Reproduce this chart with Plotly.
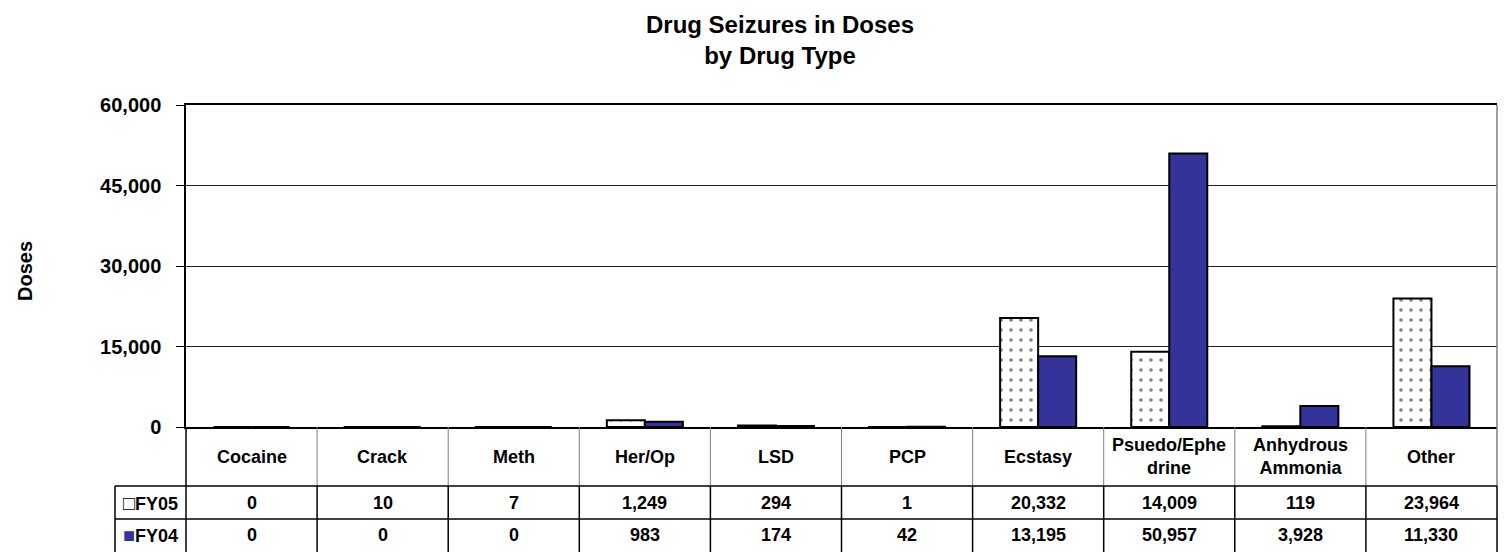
import plotly.graph_objects as go

# ---- data ----
categories = ["Cocaine", "Crack", "Meth", "Her/Op", "LSD", "PCP", "Ecstasy",
              "Psuedo/Ephedrine", "Anhydrous Ammonia", "Other"]
header_labels = ["Cocaine", "Crack", "Meth", "Her/Op", "LSD", "PCP", "Ecstasy",
                 "Psuedo/Ephe<br>drine", "Anhydrous<br>Ammonia", "Other"]
fy05 = [0, 10, 7, 1249, 294, 1, 20332, 14009, 119, 23964]
fy04 = [0, 0, 0, 983, 174, 42, 13195, 50957, 3928, 11330]
series_names = ["FY05", "FY04"]
y_ticks = [0, 15000, 30000, 45000, 60000]

FONT = "Liberation Sans, Arial, sans-serif"
BLUE = "#333399"

W, H = 1511, 552
ML, MR, MT, MB = 186, 14, 105, 125
PW = W - ML - MR
PH = H - MT - MB

def py(px_below):  # pixels below plot bottom -> paper y
    return -px_below / PH

def pxx(px_left):  # pixels left of plot left -> paper x
    return -px_left / PW

HDR = py(59)
ROW1 = py(92)
ROW2 = py(125)
LEFTCOL = pxx(71)

fig = go.Figure()
fig.add_trace(go.Bar(
    x=categories, y=fy05, name=series_names[0],
    marker=dict(color="white",
                pattern=dict(shape=".", fgcolor="black", bgcolor="white",
                             size=10, solidity=0.1, fillmode="overlay"),
                line=dict(color="black", width=2)),
    showlegend=False, cliponaxis=False))
fig.add_trace(go.Bar(
    x=categories, y=fy04, name=series_names[1],
    marker=dict(color=BLUE, line=dict(color="black", width=2)),
    showlegend=False, cliponaxis=False))

shapes = []
n = len(categories)
for i in range(1, n):
    shapes.append(dict(type="line", xref="x", yref="paper", x0=i - 0.5, x1=i - 0.5,
                       y0=0, y1=HDR, line=dict(color="#808080", width=1)))
    shapes.append(dict(type="line", xref="x", yref="paper", x0=i - 0.5, x1=i - 0.5,
                       y0=HDR, y1=ROW2, line=dict(color="black", width=1.5)))
shapes.append(dict(type="line", xref="paper", yref="paper", x0=0, x1=0, y0=0, y1=ROW2,
                   line=dict(color="black", width=1.5)))
shapes.append(dict(type="line", xref="paper", yref="paper", x0=LEFTCOL, x1=LEFTCOL,
                   y0=HDR, y1=ROW2, line=dict(color="black", width=1.5)))
shapes.append(dict(type="line", xref="paper", yref="paper", x0=1, x1=1, y0=1, y1=HDR,
                   line=dict(color="#808080", width=1.5)))
shapes.append(dict(type="line", xref="paper", yref="paper", x0=1, x1=1, y0=HDR, y1=ROW2,
                   line=dict(color="black", width=1.5)))
for yy in (HDR, ROW1):
    shapes.append(dict(type="line", xref="paper", yref="paper", x0=LEFTCOL, x1=1,
                       y0=yy, y1=yy, line=dict(color="black", width=1.5)))

annotations = []
hdr_c = py(29.5)
r1_c = py(75.5)
r2_c = py(108)
tfont = dict(family=FONT, size=18, color="black", weight="bold")
for cat, lab, a, b in zip(categories, header_labels, fy05, fy04):
    annotations.append(dict(x=cat, xref="x", y=hdr_c, yref="paper", text=lab,
                            showarrow=False, font=tfont, yanchor="middle"))
    annotations.append(dict(x=cat, xref="x", y=r1_c, yref="paper", text=f"{a:,}",
                            showarrow=False, font=tfont, yanchor="middle"))
    annotations.append(dict(x=cat, xref="x", y=r2_c, yref="paper", text=f"{b:,}",
                            showarrow=False, font=tfont, yanchor="middle"))
key_x = pxx(36)
annotations.append(dict(x=key_x, xref="paper", y=r1_c, yref="paper", xanchor="center",
                        text="<span style='font-size:20px'>□</span>" + series_names[0],
                        showarrow=False, font=tfont, yanchor="middle"))
annotations.append(dict(x=key_x, xref="paper", y=r2_c, yref="paper", xanchor="center",
                        text=f"<span style='color:{BLUE};font-size:20px'>■</span>" + series_names[1],
                        showarrow=False, font=tfont, yanchor="middle"))
annotations.append(dict(x=pxx(161), xref="paper", y=py(-156), yref="paper", text="Doses",
                        xanchor="center", yanchor="middle",
                        textangle=-90, showarrow=False,
                        font=dict(family=FONT, size=20, color="black", weight="bold")))

fig.update_layout(
    width=W, height=H,
    margin=dict(l=ML, r=MR, t=MT, b=MB, autoexpand=False),
    paper_bgcolor="white", plot_bgcolor="white",
    bargap=0.42, bargroupgap=0,
    title=dict(text="Drug Seizures in Doses<br>by Drug Type",
               x=780 / W, xanchor="center", xref="container",
               y=1 - 33 / H, yanchor="middle", yref="container",
               font=dict(family=FONT, size=24, color="black", weight="bold")),
    shapes=shapes, annotations=annotations,
    xaxis=dict(type="category", range=[-0.5, n - 0.5], showticklabels=False,
               ticks="", showgrid=False, zeroline=False,
               showline=True, linecolor="black", linewidth=1.5, mirror=True),
    yaxis=dict(range=[0, 60000], tickvals=y_ticks, tickformat=",d",
               ticks="outside", ticklen=8, tickcolor="black", tickwidth=1,
               ticklabelstandoff=11,
               showgrid=True, gridcolor="#202020", gridwidth=1, zeroline=False,
               showline=True, linecolor="black", linewidth=1.5,
               tickfont=dict(family=FONT, size=20, color="black", weight="bold")),
)

fig.write_html("out.html", config={"displayModeBar": False},
               post_script="document.body.style.margin='0px';")
